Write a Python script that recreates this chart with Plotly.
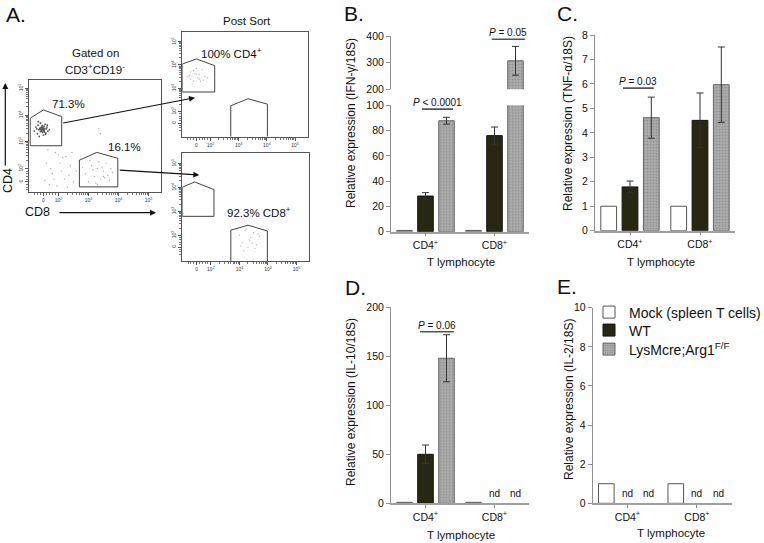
import plotly.graph_objects as go
import math

W, H = 764, 543

# ---------------- DATA ----------------
groups = ["CD4<sup>+</sup>", "CD8<sup>+</sup>"]
series_names = ["Mock (spleen T cells)", "WT", "LysMcre;Arg1<sup>F/F</sup>"]

# B: IFN-gamma / 18S
ifng_mock = [1, 1]
ifng_wt = [28.2, 76.0]
ifng_wt_err = [2.7, 6.8]
ifng_lys = [87.8, 307.0]
ifng_lys_err = [2.7, 54.0]

# C: TNF-alpha / 18S
tnf_mock = [1, 1]
tnf_wt = [1.79, 4.51]
tnf_wt_err = [0.24, 1.12]
tnf_lys = [4.62, 5.97]
tnf_lys_err = [0.84, 1.54]

# D: IL-10 / 18S  (None = not detected)
il10_mock = [1, 1]
il10_wt = [50.0, None]
il10_wt_err = [9.5, 0]
il10_lys = [148.0, None]
il10_lys_err = [24.0, 0]

# E: IL-2 / 18S
il2_mock = [1, 1]
il2_wt = [None, None]
il2_lys = [None, None]

# P-value brackets: (text, x-start, x-end, y)
pval_b1 = ("<i>P</i> &lt; 0.0001", -0.05, 0.40, 97)
pval_b2 = ("<i>P</i> = 0.05", 0.96, 1.44, 388)
pval_c = ("<i>P</i> = 0.03", -0.10, 0.34, 5.83)
pval_d = ("<i>P</i> = 0.06", -0.08, 0.41, 175)

# A: flow cytometry (display units in log decades; 1.5 ~ "0")
flow_tickvals = [1.5, 2, 3, 4, 5]
flow_ticktext = ["0", "10<sup>2</sup>", "10<sup>3</sup>", "10<sup>4</sup>", "10<sup>5</sup>"]

pre_cd4_gate_x = [1.06, 1.06, 1.50, 2.11, 2.11, 1.06]
pre_cd4_gate_y = [2.85, 3.88, 4.19, 3.94, 2.85, 2.85]
pre_cd8_gate_x = [2.70, 2.70, 3.28, 3.98, 3.98, 2.70]
pre_cd8_gate_y = [1.31, 2.31, 2.60, 2.38, 1.31, 1.31]

pre_cluster_x = [1.20, 1.25, 1.30, 1.32, 1.35, 1.38, 1.40, 1.40, 1.42, 1.44, 1.45, 1.46, 1.47, 1.48,
                 1.50, 1.50, 1.52, 1.53, 1.55, 1.56, 1.58, 1.60, 1.62, 1.65, 1.70, 1.36, 1.41, 1.49,
                 1.54, 1.43, 1.47, 1.39, 1.51, 1.57, 1.33, 1.28, 1.63, 1.44, 1.48, 1.52]
pre_cluster_y = [3.40, 3.55, 3.30, 3.62, 3.45, 3.50, 3.38, 3.70, 3.48, 3.55, 3.42, 3.60, 3.35, 3.52,
                 3.45, 3.25, 3.58, 3.40, 3.50, 3.65, 3.32, 3.48, 3.55, 3.40, 3.45, 3.20, 3.52, 3.47,
                 3.36, 3.44, 3.50, 3.46, 3.41, 3.28, 3.75, 3.48, 3.62, 3.39, 3.53, 3.46]
pre_scatter_x = [1.6, 1.8, 2.0, 2.2, 2.4, 1.7, 1.9, 2.1, 2.5, 2.7, 1.65, 2.3, 2.05, 1.85, 2.6,
                 2.15, 1.75, 2.45, 1.95, 2.35, 2.8, 1.55, 2.25, 3.4, 3.35]
pre_scatter_y = [2.2, 1.8, 2.5, 1.6, 2.1, 1.4, 2.6, 1.9, 1.5, 2.3, 2.7, 1.3, 2.2, 1.6, 1.9,
                 2.4, 2.0, 2.6, 1.35, 1.75, 2.05, 1.55, 2.45, 3.3, 3.5]
pre_cd8_x = [2.9, 3.0, 3.1, 3.2, 3.3, 3.4, 3.5, 3.6, 3.7, 3.8, 3.05, 3.25, 3.45, 3.65, 3.15,
             3.35, 3.55, 3.75, 3.3, 3.5]
pre_cd8_y = [1.8, 1.5, 2.1, 1.7, 2.0, 1.6, 1.9, 2.2, 1.55, 1.85, 2.3, 1.45, 2.05, 1.75, 1.95,
             2.25, 1.65, 2.0, 1.4, 1.7]

post4_cd4_gate_x = [1.0, 1.0, 1.50, 2.15, 2.15, 1.0]
post4_cd4_gate_y = [2.84, 4.04, 4.26, 3.97, 2.84, 2.84]
post4_cd8_gate_x = [2.72, 2.72, 3.33, 4.02, 4.02]
post4_cd8_gate_y = [0.92, 2.25, 2.55, 2.32, 0.92]
post4_dots_x = [1.2, 1.3, 1.4, 1.5, 1.6, 1.7, 1.8, 1.35, 1.45, 1.55, 1.65, 1.25, 1.5, 1.75, 1.4, 1.6, 1.9, 1.3]
post4_dots_y = [3.5, 3.7, 3.3, 3.6, 3.4, 3.8, 3.5, 3.2, 3.65, 3.45, 3.3, 3.55, 3.85, 3.35, 3.75, 3.6, 3.45, 3.4]

post8_cd4_gate_x = [1.0, 1.0, 1.43, 2.11, 2.11, 1.0]
post8_cd4_gate_y = [2.79, 4.01, 4.23, 3.91, 2.79, 2.79]
post8_cd8_gate_x = [2.70, 2.70, 3.30, 3.98, 3.98]
post8_cd8_gate_y = [0.92, 2.21, 2.42, 2.18, 0.92]
post8_dots_x = [3.0, 3.1, 3.2, 3.3, 3.4, 3.5, 3.6, 3.7, 3.15, 3.35, 3.55, 3.25, 3.45, 3.05, 3.65]
post8_dots_y = [2.0, 1.7, 2.2, 1.5, 1.9, 2.1, 1.6, 1.95, 1.35, 1.8, 1.45, 2.25, 1.65, 1.55, 2.05]

# ---------------- STYLE ----------------
FONT = "Liberation Sans, Arial, sans-serif"
TXT = "#111111"
C_MOCK, C_WT, C_LYS = "#ffffff", "#282712", "#ababab"
E_MOCK, E_WT, E_LYS = "#555555", "#111111", "#666666"
BARGAP, GROUPGAP = 0.087, 0.26
LEGENDS = ["legend", "legend2", "legend3"]


def dx(a, b):
    return [a / W, b / W]


def dy(top, bottom):
    return [1 - bottom / H, 1 - top / H]


fig = go.Figure()

# ---- Panel A traces ----
def flow_line(xs, ys, ax):
    fig.add_trace(go.Scatter(x=xs, y=ys, mode="lines", line=dict(color="#444", width=1),
                             xaxis="x" + ax, yaxis="y" + ax, showlegend=False, hoverinfo="skip"))


def flow_dots(xs, ys, ax, color="#777", size=2):
    fig.add_trace(go.Scatter(x=xs, y=ys, mode="markers", marker=dict(color=color, size=size),
                             xaxis="x" + ax, yaxis="y" + ax, showlegend=False, hoverinfo="skip"))


flow_dots(pre_cluster_x, pre_cluster_y, "", "#555", 1.8)
flow_dots(pre_scatter_x, pre_scatter_y, "", "#aaa", 1.4)
flow_dots(pre_cd8_x, pre_cd8_y, "", "#aaa", 1.4)
flow_line(pre_cd4_gate_x, pre_cd4_gate_y, "")
flow_line(pre_cd8_gate_x, pre_cd8_gate_y, "")
flow_dots(post4_dots_x, post4_dots_y, "2", "#bbb", 1.4)
flow_line(post4_cd4_gate_x, post4_cd4_gate_y, "2")
flow_line(post4_cd8_gate_x, post4_cd8_gate_y, "2")
flow_dots(post8_dots_x, post8_dots_y, "3", "#bbb", 1.4)
flow_line(post8_cd4_gate_x, post8_cd4_gate_y, "3")
flow_line(post8_cd8_gate_x, post8_cd8_gate_y, "3")

# ---- bar panels ----
xpos = [0, 1]
fills = [C_MOCK, C_WT, C_LYS]
edges = [E_MOCK, E_WT, E_LYS]


def add_bars(xa, ya, vals, errs, legend=False):
    for i, (v, e) in enumerate(zip(vals, errs)):
        mk = dict(color=fills[i], line=dict(color=edges[i], width=1))
        if i == 2:
            mk["pattern"] = dict(shape=".", size=3, solidity=0.25, fgcolor="#8f8f8f", bgcolor=C_LYS)
        fig.add_trace(go.Bar(
            x=xpos, y=v, name=series_names[i], marker=mk, xaxis=xa, yaxis=ya,
            showlegend=legend, legendgroup=str(i), legend=LEGENDS[i],
            error_y=dict(type="data", array=e, visible=True,
                         color="#333", thickness=1, width=3.5) if e is not None else None,
        ))


add_bars("x4", "y4", [ifng_mock, ifng_wt, ifng_lys], [None, ifng_wt_err, ifng_lys_err])
add_bars("x4", "y5", [ifng_mock, ifng_wt, ifng_lys], [None, ifng_wt_err, ifng_lys_err])
add_bars("x6", "y6", [tnf_mock, tnf_wt, tnf_lys], [None, tnf_wt_err, tnf_lys_err])
add_bars("x7", "y7", [il10_mock, il10_wt, il10_lys], [None, il10_wt_err, il10_lys_err])
add_bars("x8", "y8", [il2_mock, il2_wt, il2_lys], [None, None, None], legend=True)


def add_pval(p, xa, ya):
    txt, x0, x1, y = p
    fig.add_trace(go.Scatter(x=[x0, x1], y=[y, y], mode="lines", line=dict(color="#555", width=1.6),
                             xaxis=xa, yaxis=ya, showlegend=False, hoverinfo="skip", cliponaxis=False))
    fig.add_annotation(x=(x0 + x1) / 2, y=y, xref=xa, yref=ya, text=txt, showarrow=False,
                       yanchor="bottom", yshift=-1, font=dict(size=10, color=TXT, family=FONT))


add_pval(pval_b1, "x4", "y4")
add_pval(pval_b2, "x4", "y5")
add_pval(pval_c, "x6", "y6")
add_pval(pval_d, "x7", "y7")

# "nd" labels for non-detected values
slot = (1 - BARGAP) / 3
for xa, ya, series in [("x7", "y7", [il10_mock, il10_wt, il10_lys]),
                       ("x8", "y8", [il2_mock, il2_wt, il2_lys])]:
    for i, s in enumerate(series):
        for g, v in enumerate(s):
            if v is None:
                fig.add_annotation(x=xpos[g] + (i - 1) * slot, y=0, xref=xa, yref=ya, text="nd",
                                   showarrow=False, yanchor="bottom", yshift=2,
                                   font=dict(size=10, color=TXT, family=FONT))

# ---------------- LAYOUT ----------------
minor_vals = [d + math.log10(k) for d in (2, 3, 4) for k in range(2, 10)] + [1.6, 1.7, 1.8, 1.9, 1.4, 1.3, 1.2]


def flow_axis(domain, rng, anchor, is_y=False):
    return dict(domain=domain, range=rng, anchor=anchor, showline=True, mirror=True, automargin=False,
                linecolor="#555", linewidth=1, showgrid=False, zeroline=False,
                tickmode="array", tickvals=flow_tickvals, ticktext=flow_ticktext,
                ticks="outside", ticklen=3, tickcolor="#555", tickwidth=0.8,
                tickfont=dict(size=5, color="#333", family=FONT),
                tickangle=-90 if is_y else 0,
                minor=dict(tickvals=minor_vals, ticklen=2, tickcolor="#777", ticks="outside", tickwidth=0.6))


def bar_x(domain, anchor):
    return dict(domain=domain, range=[-0.5, 1.5], anchor=anchor, showline=True, linecolor="#a0a0a0",
                linewidth=1.5, showgrid=False, zeroline=False, tickmode="array", tickvals=xpos,
                ticktext=groups, ticks="outside", ticklen=3, tickcolor="#888", automargin=False,
                tickfont=dict(size=10.5, color=TXT, family=FONT))


def bar_y(domain, rng, dtick, anchor):
    return dict(domain=domain, range=rng, dtick=dtick, anchor=anchor, showline=True, linecolor="#909090",
                linewidth=1, showgrid=False, zeroline=False, ticks="outside", ticklen=4, automargin=False,
                tickcolor="#909090", tickfont=dict(size=10.5, color=TXT, family=FONT))


def legend_row(py):
    return dict(x=589 / W, y=1 - py / H, xanchor="left", yanchor="middle",
                font=dict(size=14, color=TXT, family=FONT), bgcolor="rgba(0,0,0,0)",
                itemwidth=30, borderwidth=0)


fig.update_layout(
    template="none",
    width=W, height=H, margin=dict(l=0, r=0, t=0, b=0, pad=0, autoexpand=False),
    paper_bgcolor="white", plot_bgcolor="white",
    font=dict(family=FONT, color=TXT),
    barmode="group", bargap=BARGAP, bargroupgap=GROUPGAP,
    xaxis=flow_axis(dx(29.3, 161), [1.03, 5.42], "y"),
    yaxis=flow_axis(dy(80, 191.7), [1.13, 5.31], "x", True),
    xaxis2=flow_axis(dx(182.3, 307.7), [1.0, 5.45], "y2"),
    yaxis2=flow_axis(dy(31.7, 136.7), [0.92, 5.43], "x2", True),
    xaxis3=flow_axis(dx(182.3, 309.3), [1.0, 5.45], "y3"),
    yaxis3=flow_axis(dy(153.3, 261), [0.92, 5.43], "x3", True),
    xaxis4=bar_x(dx(391, 529), "y4"),
    yaxis4=bar_y(dy(105.3, 231.7), [0, 100], 20, "x4"),
    yaxis5=bar_y(dy(36, 89.3), [200, 400], 100, "x4"),
    xaxis6=bar_x(dx(595, 735), "y6"),
    yaxis6=bar_y(dy(35, 230.7), [0, 8], 1, "x6"),
    xaxis7=bar_x(dx(391, 529), "y7"),
    yaxis7=bar_y(dy(307.3, 503.3), [0, 200], 50, "x7"),
    xaxis8=bar_x(dx(592.7, 731.7), "y8"),
    yaxis8=bar_y(dy(307.7, 503.3), [0, 10], 2, "x8"),
    legend=legend_row(312.5),
    legend2=legend_row(330.5),
    legend3=legend_row(349.5),
    showlegend=True,
)


def ann(text, px, py, size, **kw):
    fig.add_annotation(x=px / W, y=1 - py / H, xref="paper", yref="paper", text=text,
                       showarrow=False, xanchor=kw.pop("xanchor", "center"), yanchor=kw.pop("yanchor", "middle"),
                       font=dict(size=size, color=TXT, family=FONT), **kw)


# panel letters
ann("A.", 16, 14, 21)
ann("B.", 354, 13, 21)
ann("C.", 567, 13, 21)
ann("D.", 355, 287, 21)
ann("E.", 567, 286, 21)

# panel A texts
ann("Gated on", 95, 53, 11.5)
ann("CD3<sup>+</sup>CD19<sup>-</sup>", 95, 69, 11.5)
ann("Post Sort", 247, 21, 11.5)
ann("CD4", 8, 181, 12.5, textangle=-90)
ann("CD8", 37, 212, 12.5)
for t, x, y, xa, ya in [("71.3%", 2.33, 4.40, "x", "y"), ("16.1%", 4.19, 2.81, "x", "y"),
                        ("100% CD4<sup>+</sup>", 2.76, 4.52, "x2", "y2"),
                        ("92.3% CD8<sup>+</sup>", 3.69, 2.97, "x3", "y3")]:
    fig.add_annotation(x=x, y=y, xref=xa, yref=ya, text=t, showarrow=False,
                       font=dict(size=11.5, color=TXT, family=FONT))

# arrows (head position, tail offset in pixels)
for hx, hy, axp, ayp in [(195, 97.7, -133.3, 25.6), (199.3, 175, -81, -5),
                         (5.3, 83, 0, 84), (156, 212.7, -98, 0)]:
    fig.add_annotation(x=hx / W, y=1 - hy / H, xref="paper", yref="paper", ax=axp, ay=ayp,
                       axref="pixel", ayref="pixel", showarrow=True, arrowhead=2, arrowsize=1,
                       arrowwidth=1.2, arrowcolor="#111", text="")

# bar panel titles
ann("Relative expression (IFN-\u03b3/18S)", 351, 123, 12, textangle=-90)
ann("Relative expression (TNF-\u03b1/18S)", 568, 124, 12, textangle=-90)
ann("Relative expression (IL-10/18S)", 351, 402, 12, textangle=-90)
ann("Relative expression (IL-2/18S)", 569, 400, 12, textangle=-90)
ann("T lymphocyte", 461, 262, 11.5)
ann("T lymphocyte", 661, 262, 11.5)
ann("T lymphocyte", 461, 535, 11.5)
ann("T lymphocyte", 671, 533, 11.5)

fig.write_html("out.html", config={"displayModeBar": False},
               post_script="document.body.style.margin='0px';document.body.style.overflow='hidden';")
